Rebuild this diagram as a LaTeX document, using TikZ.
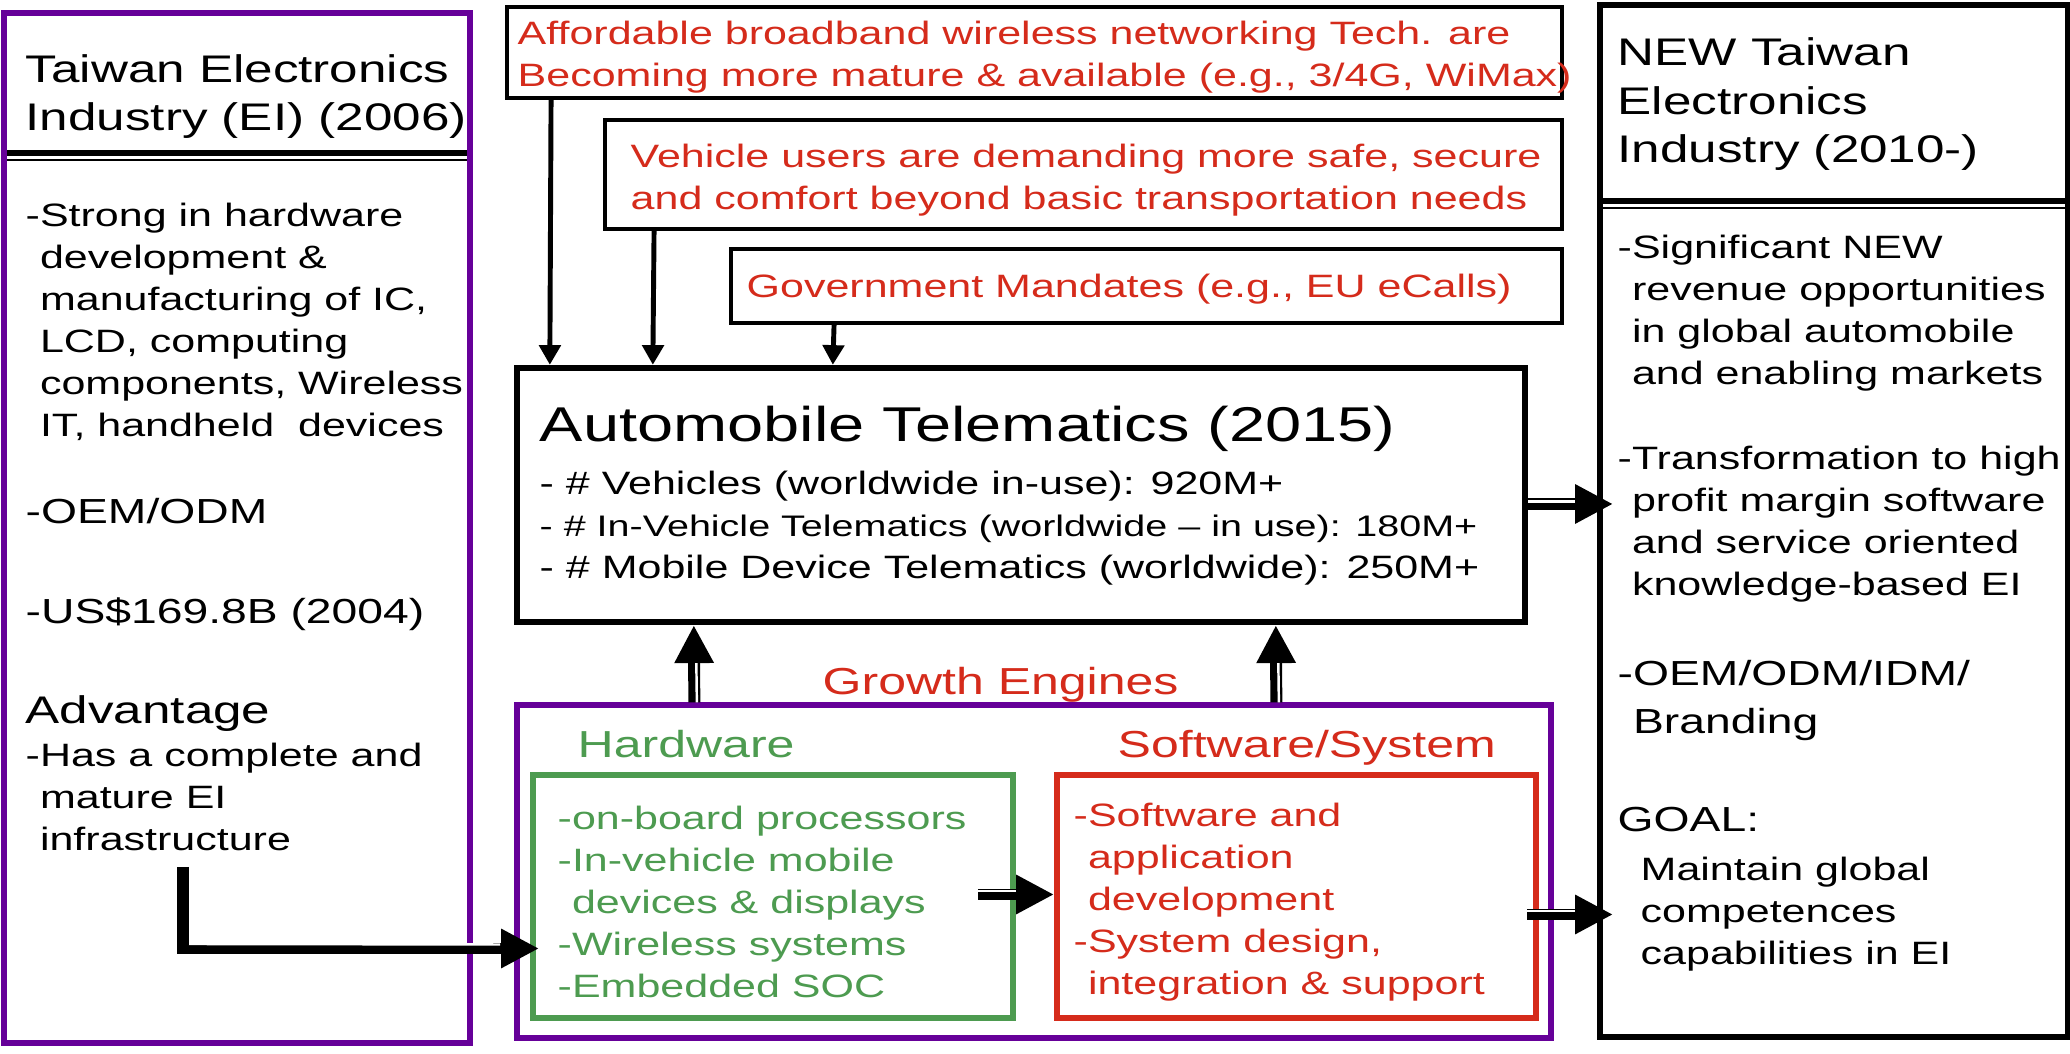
\documentclass[tikz,border=0pt]{standalone}
\usepackage{fontspec}
\setmainfont[FakeStretch=1.33]{Liberation Sans}
\usetikzlibrary{arrows.meta,calc,fit}

\definecolor{eipurple}{RGB}{102,0,153}
\definecolor{eired}{RGB}{213,43,27}
\definecolor{eigreen}{RGB}{77,155,80}

\newcommand{\fbody}{\fontsize{9.2}{11.95}\selectfont}
\newcommand{\fnarrow}{\fontsize{8.45}{11.95}\selectfont}
\newcommand{\fhead}{\fontsize{9.9}{13.7}\selectfont}
\newcommand{\ftitle}{\fontsize{10.95}{13.8}\selectfont}
\newcommand{\fmid}{\fontsize{10.7}{13}\selectfont}
\newcommand{\fbig}{\fontsize{13.9}{16}\selectfont}
\newcommand{\dashind}{\hphantom{-}}

\begin{document}
\begin{tikzpicture}[x=0.1mm, y=-0.1mm,
    panel/.style={draw, inner sep=0pt},
    txt/.style={anchor=base west, inner sep=0pt, align=left},
    feed/.style={line width=1.4pt, -{Triangle[width=6pt,length=5.6pt]}},
    fat/.style={line width=3.4pt, -{Triangle[width=10.5pt,length=10.8pt]}},
    stripe/.style={white, line width=0.7pt}]
    \useasboundingbox (0,0) rectangle (2070,1054);
    \fill[white] (0,0) rectangle (2070,1054);

    % Panels
    \node[panel, draw=eipurple, line width=1.8pt, fit={(4,13) (470,1043)}] (oldei) {};
    \node[panel, line width=1.7pt, fit={(1600,5) (2068,1037)}] (newei) {};
    \node[panel, line width=1.1pt, fit={(507,7) (1562,98)}] (broadband) {};
    \node[panel, line width=1.1pt, fit={(605,120) (1562,229)}] (demand) {};
    \node[panel, line width=1.1pt, fit={(731,249) (1562,323)}] (mandate) {};
    \node[panel, line width=1.8pt, fit={(517,368) (1525,622)}] (telematics) {};
    \node[panel, draw=eipurple, line width=1.5pt, fit={(517,705) (1551,1038)}] (engines) {};
    \node[panel, draw=eigreen, line width=1.7pt, fit={(533,775) (1013,1018)}] (hwbox) {};
    \node[panel, draw=eired, line width=1.7pt, fit={(1057,775) (1536,1018)}] (swbox) {};

    % Rules under the titles
    \draw[line width=1.7pt] (7,153) -- (467,153);
    \draw[line width=0.6pt] (7,160) -- (467,160);
    \draw[line width=1.7pt] (1603,201) -- (2066,201);
    \draw[line width=0.6pt] (1603,208) -- (2066,208);

    % Left panel (multi-line texts sit on their last baseline)
    \node[txt, font=\ftitle] (ltitle) at (25,131) {Taiwan Electronics\\Industry (EI) (2006)};
    \node[txt, font=\fbody] (lstrong) at (25,437) {-Strong in hardware\\\dashind development \&\\\dashind manufacturing of IC,\\\dashind LCD, computing\\\dashind components, Wireless\\\dashind IT, handheld\ \ devices};
    \node[txt, font=\fhead] (loem) at (25,524) {-OEM/ODM};
    \node[txt, font=\fhead] (lus) at (25,624) {-US\$169.8B (2004)};
    \node[txt, font=\ftitle] (ladv) at (25,724) {Advantage};
    \node[txt, font=\fbody] (lhas) at (25,851) {-Has a complete and\\\dashind mature EI\\\dashind infrastructure};

    % Drivers
    \node[txt, font=\fbody, text=eired] (ttech) at (517,87) {Affordable broadband wireless networking Tech. are\\Becoming more mature \& available (e.g., 3/4G, WiMax)};
    \node[txt, font=\fbody, text=eired] (tuser) at (630,210) {Vehicle users are demanding more safe, secure\\and comfort beyond basic transportation needs};
    \node[txt, font=\fbody, text=eired] (tgov) at (746,298) {Government Mandates (e.g., EU eCalls)};

    % Telematics
    \node[txt, font=\fbig] (ttitle) at (539,442) {Automobile Telematics (2015)};
    \node[txt, font=\fbody] (tlist) at (539,579) {- \# Vehicles (worldwide in-use): 920M+\\{\fnarrow - \# In-Vehicle Telematics (worldwide – in use): 180M+}\\- \# Mobile Device Telematics (worldwide): 250M+};

    % Growth engines
    \node[txt, font=\fmid, text=eired] (glabel) at (822,695) {Growth Engines};
    \node[txt, font=\fmid, text=eigreen] (hwlabel) at (577,758) {Hardware};
    \node[txt, font=\fmid, text=eired] (swlabel) at (1117,758) {Software/System};
    \node[txt, font=\fbody, text=eigreen] (hwlist) at (557,998) {-on-board processors\\-In-vehicle mobile\\\dashind devices \& displays\\-Wireless systems\\-Embedded SOC};
    \node[txt, font=\fbody, text=eired] (swlist) at (1073,995) {-Software and\\\dashind application\\\dashind development\\-System design,\\\dashind integration \& support};

    % Right panel
    \node[txt, font=\ftitle] (rtitle) at (1617,163) {NEW Taiwan\\Electronics\\Industry (2010-)};
    \node[txt, font=\fbody] (rsig) at (1617,385) {-Significant NEW\\\dashind revenue opportunities\\\dashind in global automobile\\\dashind and enabling markets};
    \node[txt, font=\fbody] (rtrans) at (1617,596) {-Transformation to high\\\dashind profit margin software\\\dashind and service oriented\\\dashind knowledge-based EI};
    \node[txt, font=\fhead] (roem) at (1617,734) {-OEM/ODM/IDM/\\\dashind Branding};
    \node[txt, font=\fhead] (rgoal) at (1617,832) {GOAL:};
    \node[txt, font=\fbody] (rmaint) at (1640,965) {Maintain global\\competences\\capabilities in EI};

    % Driver arrows
    \draw[feed] ($(broadband.south west)+(46,0)$) -- ($(telematics.north west)+(36,0)$);
    \draw[feed] ($(demand.south west)+(51,0)$) -- ($(telematics.north west)+(139,0)$);
    \draw[feed] ($(mandate.south west)+(105,0)$) -- ($(telematics.north west)+(319,0)$);

    % Fat arrows
    \coordinate (advstart) at (183,867);
    \draw[fat] (advstart) |- ([shift={(9,52)}]hwbox.west);
    \draw[stripe] ($(advstart)+(6,77)$) -- ($(hwbox.west)+(-30,48)$);

    \draw[fat] ($(hwbox.east)+(-38,-2)$) -- ($(swbox.west)+(0,-2)$);
    \draw[stripe] ($(hwbox.east)+(-38,-5.5)$) -- ($(swbox.west)+(-38,-5.5)$);

    \draw[fat] ($(engines.north west)+(180,0)$) -- ($(telematics.south west)+(180,0)$);
    \draw[stripe] ($(engines.north west)+(182.5,0)$) -- ($(telematics.south west)+(182.5,38)$);
    \draw[fat] ($(engines.north west)+(762,0)$) -- ($(telematics.south west)+(762,0)$);
    \draw[stripe] ($(engines.north west)+(764.5,0)$) -- ($(telematics.south west)+(764.5,38)$);

    \draw[fat] ($(telematics.east)+(0,9)$) -- ($(newei.west |- telematics.east)+(16,9)$);
    \draw[stripe] ($(telematics.east)+(0,6.5)$) -- ($(newei.west |- telematics.east)+(-22,6.5)$);
    \draw[fat] ($(swbox.east)+(-12,18)$) -- ($(newei.west |- swbox.east)+(16,18)$);
    \draw[stripe] ($(swbox.east)+(-12,14.5)$) -- ($(newei.west |- swbox.east)+(-22,14.5)$);
\end{tikzpicture}
\end{document}
